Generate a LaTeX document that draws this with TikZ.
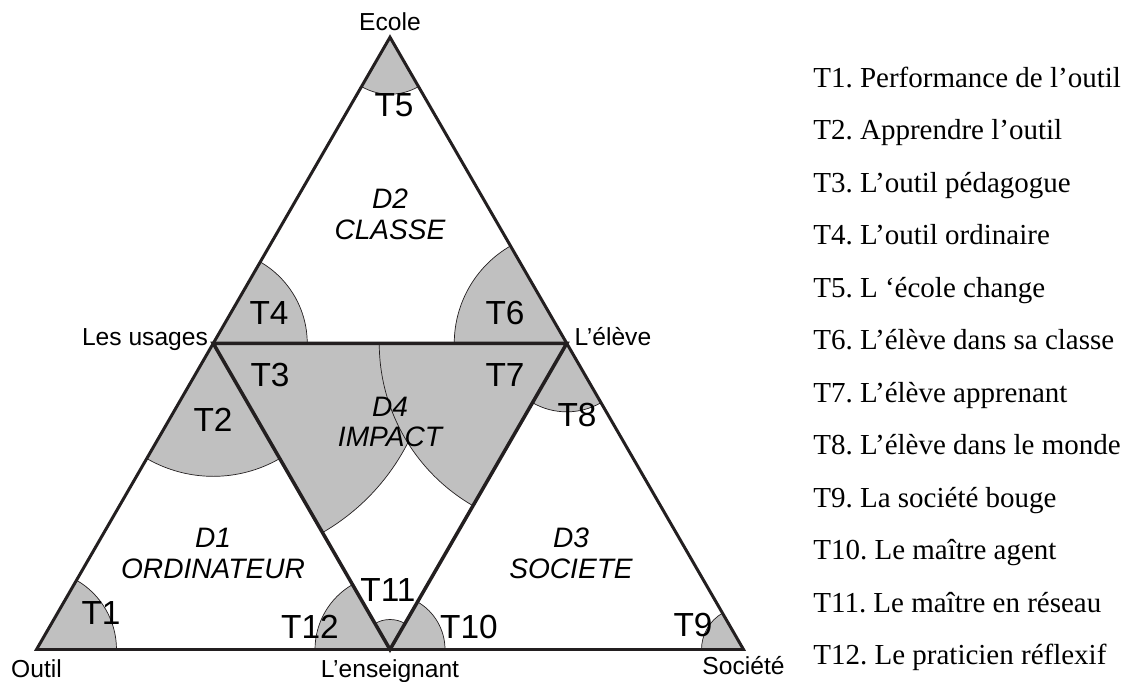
\documentclass[tikz,border=0pt]{standalone}
\usepackage{fontspec}
\setmainfont{Liberation Serif}
\setsansfont{Liberation Sans}
\usepackage{tikz}
\usetikzlibrary{calc}
\definecolor{sectorgray}{RGB}{192, 192, 192}
\definecolor{edgeblack}{RGB}{35, 31, 32}

\begin{document}
\begin{tikzpicture}[
    sector/.style={fill=sectorgray, draw=edgeblack, line width=0.4pt},
    edge/.style={edgeblack, line width=1.7pt},
    inneredge/.style={edgeblack, line width=2pt},
    vlabel/.style={font=\sffamily\fontsize{14}{16}\selectfont, inner sep=0pt},
    tlabel/.style={font=\sffamily\fontsize{19}{21}\selectfont, inner sep=0pt},
    dlabel/.style={font=\sffamily\itshape\fontsize{16}{17.5}\selectfont,
                   align=center, inner sep=0pt},
    legend/.style={font=\frenchspacing\fontsize{16.5}{18}\selectfont,
                   anchor=base west, inner sep=0pt}]
    \useasboundingbox (0,0) rectangle (22.64,13.62);

    %% corners of the big triangle and midpoints
    \coordinate (outil) at (0.73,0.63);
    \coordinate (ens) at ($(outil)+(7.07,0)$);
    \coordinate (societe) at ($(outil)+(14.14,0)$);
    \coordinate (usages) at ($(outil)+(60:7.07)$);
    \coordinate (eleve) at ($(ens)+(60:7.07)$);
    \coordinate (ecole) at ($(outil)+(60:14.14)$);

    %% shaded sectors (T3 before T7, the latter overlaps)
    \foreach \v/\a/\b/\r in {outil/0/60/1.6, usages/240/300/2.66,
        usages/300/360/4.37, usages/0/60/1.88, ecole/240/300/1.14,
        eleve/120/180/2.25, eleve/180/240/3.75, eleve/240/300/1.37,
        societe/120/180/0.84, ens/0/60/1.1, ens/60/120/0.6, ens/120/180/1.5}
      \filldraw[sector] (\v) -- ++(\a:\r)
        arc[start angle=\a, end angle=\b, radius=\r] -- cycle;

    %% triangles
    \draw[edge] (outil) -- (societe) -- (ecole) -- cycle;
    \draw[inneredge] (usages) -- (eleve) -- (ens) -- cycle;

    %% vertex labels
    \node[vlabel, anchor=base] (ecolelbl) at ($(ecole)+(0,0.14)$) {Ecole};
    \node[vlabel, anchor=base east] (usageslbl) at ($(usages)+(-0.1,-0.05)$) {Les usages};
    \node[vlabel, anchor=base west] (elevelbl) at ($(eleve)+(0.15,-0.05)$) {L’élève};
    \node[vlabel, anchor=base] (outillbl) at ($(outil)+(0,-0.56)$) {Outil};
    \node[vlabel, anchor=base] (enslbl) at ($(ens)+(0,-0.56)$) {L’enseignant};
    \node[vlabel, anchor=base] (societelbl) at ($(societe)+(0,-0.5)$) {Société};

    %% domains
    \node[dlabel] (d2) at (7.8,9.34) {D2\\CLASSE};
    \node[dlabel] (d4) at (7.8,5.18) {D4\\IMPACT};
    \node[dlabel] (d1) at (4.26,2.55) {D1\\ORDINATEUR};
    \node[dlabel] (d3) at (11.42,2.55) {D3\\SOCIETE};

    %% themes
    \node[tlabel] (t1) at (2.02,1.36) {T1};
    \node[tlabel] (t2) at (4.26,5.22) {T2};
    \node[tlabel] (t3) at (5.40,6.12) {T3};
    \node[tlabel] (t4) at (5.38,7.36) {T4};
    \node[tlabel] (t5) at (7.88,11.52) {T5};
    \node[tlabel] (t6) at (10.1,7.36) {T6};
    \node[tlabel] (t7) at (10.1,6.12) {T7};
    \node[tlabel] (t8) at (11.54,5.32) {T8};
    \node[tlabel] (t9) at (13.86,1.12) {T9};
    \node[tlabel] (t10) at (9.38,1.08) {T10};
    \node[tlabel] (t11) at (7.76,1.82) {T11};
    \node[tlabel] (t12) at (6.2,1.08) {T12};

    %% legend
    \foreach \txt [count=\i] in {Performance de l’outil, Apprendre l’outil,
        L’outil pédagogue, L’outil ordinaire, L ‘école change,
        L’élève dans sa classe, L’élève apprenant, L’élève dans le monde,
        La société bouge, Le maître agent, Le maître en réseau,
        Le praticien réflexif}
      \node[legend] (leg\i) at (16.26,{11.874-(\i-1)*1.05}) {T\i. \txt};
  \end{tikzpicture}
\end{document}
